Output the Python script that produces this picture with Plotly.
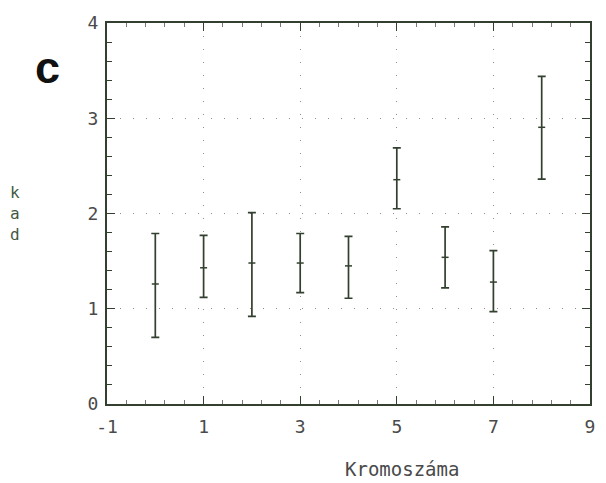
import plotly.graph_objects as go

# chromosome number vs. kad: mean with lower/upper limits
chromosomes = [0, 1, 2, 3, 4, 5, 6, 7, 8]
kad_mean = [1.26, 1.43, 1.48, 1.48, 1.45, 2.355, 1.54, 1.28, 2.905]
kad_low = [0.70, 1.12, 0.92, 1.17, 1.11, 2.05, 1.22, 0.97, 2.36]
kad_high = [1.79, 1.77, 2.01, 1.79, 1.76, 2.69, 1.86, 1.61, 3.44]

x_ticks = [-1, 1, 3, 5, 7, 9]
y_ticks = [0, 1, 2, 3, 4]

err_plus = [h - m for h, m in zip(kad_high, kad_mean)]
err_minus = [m - l for m, l in zip(kad_mean, kad_low)]

ink = "#33402f"
mono = "DejaVu Sans Mono, monospace"

fig = go.Figure()
fig.add_trace(go.Scatter(
    x=chromosomes, y=kad_mean, mode="markers",
    marker=dict(symbol="line-ew", size=5, line=dict(color=ink, width=1.5)),
    error_y=dict(type="data", symmetric=False, array=err_plus,
                 arrayminus=err_minus, color=ink, thickness=1.7, width=4),
    showlegend=False,
))

axis_common = dict(
    showline=True, linecolor=ink, linewidth=2, mirror="allticks",
    ticks="inside", ticklen=8, tickcolor=ink, tickwidth=1.2,
    showgrid=True, gridcolor="#8a8f88", gridwidth=1, griddash="1px,12px",
    zeroline=False, tickfont=dict(family=mono, size=18, color="#4a4a4a"),
)

fig.update_xaxes(
    range=[-1, 9], tickmode="array", tickvals=x_ticks,
    ticktext=[str(v) for v in x_ticks], ticklabelstandoff=5,
    minor=dict(ticks="inside", ticklen=4, tickcolor="#777", dtick=0.4,
               tick0=-1, showgrid=False),
    **axis_common,
)
fig.update_yaxes(
    range=[0, 4], tickmode="array", tickvals=y_ticks,
    ticktext=[str(v) for v in y_ticks], ticklabelstandoff=3,
    minor=dict(ticks="inside", ticklen=5, tickcolor=ink, dtick=0.2,
               tick0=0, showgrid=False),
    **axis_common,
)

fig.add_annotation(text="<b>c</b>", xref="paper", yref="paper",
                   x=-0.124, y=0.882, showarrow=False,
                   xanchor="center", yanchor="middle",
                   font=dict(family="Arial Black, Liberation Sans, sans-serif",
                             size=45, color="#111"))
fig.add_annotation(text="k<br>a<br>d", xref="paper", yref="paper",
                   x=-0.191, y=0.50, showarrow=False, align="center",
                   xanchor="center", yanchor="middle",
                   font=dict(family=mono, size=16, color="#3f5a3f"))
fig.add_annotation(text="Kromoszáma", xref="paper", yref="paper",
                   x=0.611, y=-0.171, showarrow=False,
                   xanchor="center", yanchor="middle",
                   font=dict(family=mono, size=19, color="#4a4a4a"))

fig.update_layout(
    width=606, height=483,
    margin=dict(l=107, r=16, t=23, b=79),
    paper_bgcolor="white", plot_bgcolor="white",
)

fig.write_html("out.html")
